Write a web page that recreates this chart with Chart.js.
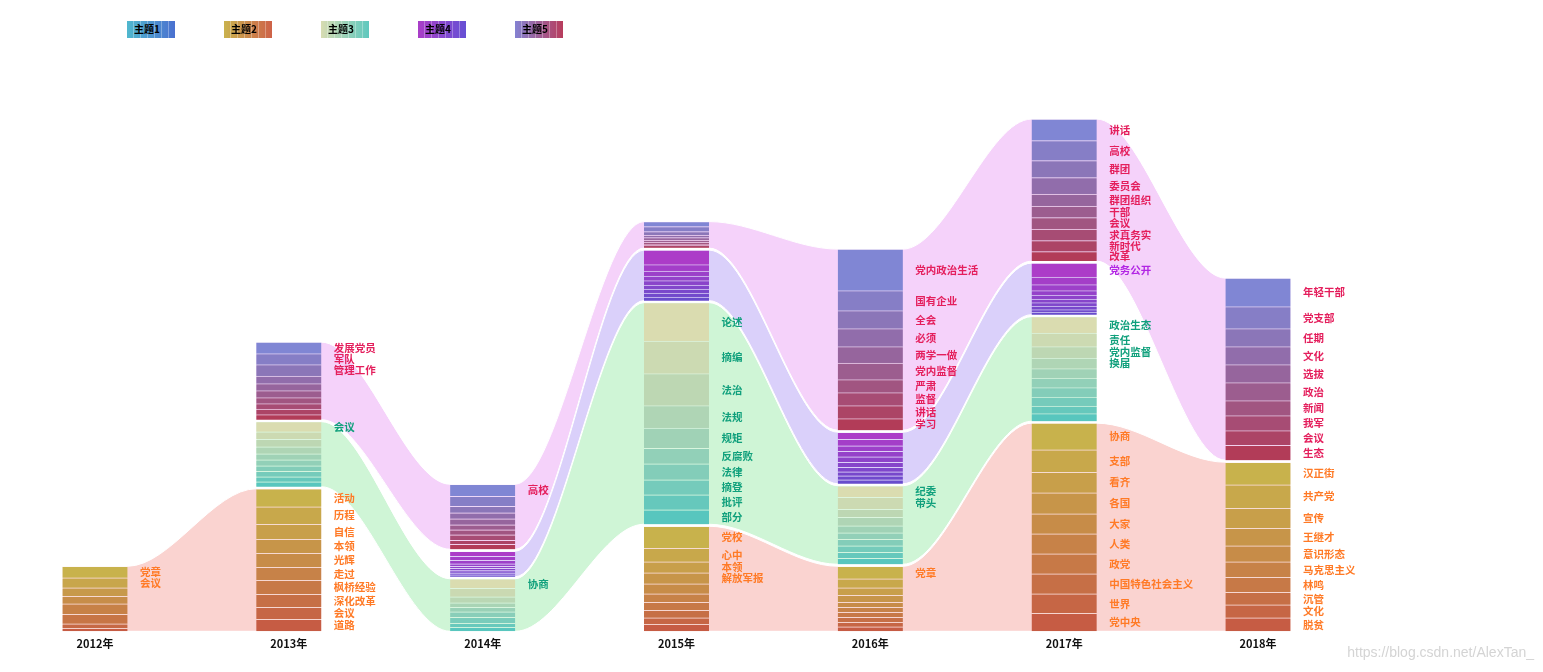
<!DOCTYPE html>
<html>
<head>
<meta charset="utf-8">
<script src="https://cdn.jsdelivr.net/npm/chart.js@4/dist/chart.umd.min.js"></script>
<style>
  html, body { margin: 0; padding: 0; background: #fff; }
  #wrap { position: relative; width: 1543px; height: 672px; }
  .lg {
    position: absolute; top: 21px; width: 48px; height: 17px; box-sizing: border-box;
    padding-left: 7px; line-height: 17px; color: #000;
    font: bold 10px "Noto Sans CJK SC", sans-serif;
  }
  #mark {
    position: absolute; right: 9px; top: 644px; color: #d4d4d4;
    font: 14px "Liberation Sans", Arial, sans-serif;
  }
</style>
</head>
<body>
<div id="wrap">
  <canvas id="grafico"></canvas>
  <div id="leyenda"></div>
  <div id="mark">https://blog.csdn.net/AlexTan_</div>
</div>
<script>
// Años y temas
const years = [2012, 2013, 2014, 2015, 2016, 2017, 2018];
const themeNames = ['主题1', '主题2', '主题3', '主题4', '主题5'];

// Tamaños de cada segmento (de arriba hacia abajo) por año, [] = el tema no aparece
const theme2Sizes = [
  [11.5, 10, 8.5, 7.5, 10.5, 9.5, 4.5, 3],
  [18, 17.5, 15, 14, 14, 13, 14, 13, 12, 12],
  [],
  [22, 13.5, 11, 11, 10, 8.5, 8, 7.5, 6.5, 7],
  [12.5, 9, 7.5, 7, 5, 5, 5, 5, 4.5, 4.5],
  [26.5, 22.5, 20.5, 21, 20, 20, 20, 20, 19.5, 18],
  [22.5, 23.5, 20, 17.5, 16, 15.5, 15, 12.5, 13, 13.5]
];
const theme2Words = [
  ['党章', '会议'],
  ['活动', '历程', '自信', '本领', '光辉', '走过', '枫桥经验', '深化改革', '会议', '道路'],
  [],
  ['党校', '心中', '本领', '解放军报'],
  ['党章'],
  ['协商', '支部', '看齐', '各国', '大家', '人类', '政党', '中国特色社会主义', '世界', '党中央'],
  ['汉正街', '共产党', '宣传', '王继才', '意识形态', '马克思主义', '林鸣', '沉管', '文化', '脱贫']
];

const theme3Sizes = [
  [],
  [10, 7.5, 7.5, 7, 6, 6, 5.5, 5.5, 5, 5],
  [9.5, 8.5, 6, 4.5, 4.5, 5.5, 6, 4, 4],
  [38.5, 32.5, 32, 22.5, 20, 15.5, 16, 15, 15, 14.5],
  [11.5, 12, 8, 8.5, 7, 6.5, 6.5, 6.5, 6, 6],
  [16.5, 13.5, 11.5, 10.5, 9.5, 9.5, 9.5, 9, 7.5, 7.5],
  []
];
const theme3Words = [
  [],
  ['会议'],
  ['协商'],
  ['论述', '摘编', '法治', '法规', '规矩', '反腐败', '法律', '摘登', '批评', '部分'],
  ['纪委', '带头'],
  ['政治生态', '责任', '党内监督', '换届'],
  []
];

const theme4Sizes = [
  [],
  [],
  [5, 4, 3.5, 2.5, 2, 2, 1.5, 1.5, 1.5, 2],
  [14.5, 6.5, 5, 4.5, 4.5, 4, 4, 4, 3.5],
  [7, 6.5, 5.5, 5.5, 5.5, 5, 4.5, 4, 4, 4],
  [14, 7.5, 6, 4.5, 4, 3.5, 3.5, 3.5, 2.5, 2.5],
  []
];
const theme4Words = [[], [], [], [], [], ['党务公开'], []];

const theme5Sizes = [
  [],
  [11.5, 11, 11.5, 7.5, 7, 7, 6, 5.5, 5.5, 5],
  [12, 10, 6.5, 6, 6, 5, 5, 5.5, 4, 5],
  [5, 5, 3.5, 2.5, 2.5, 2, 2, 1.5, 1.5, 1],
  [41.5, 20, 18, 18, 16.5, 16.5, 13, 13, 13, 11.5],
  [21.5, 20, 17, 16.5, 12, 11.5, 11.5, 11.5, 11, 9.5],
  [28.5, 22, 18, 18, 18, 18, 15, 15, 14.5, 15]
];
const theme5Words = [
  [],
  ['发展党员', '军队', '管理工作'],
  ['高校'],
  [],
  ['党内政治生活', '国有企业', '全会', '必须', '两学一做', '党内监督', '严肃', '监督', '讲话', '学习'],
  ['讲话', '高校', '群团', '委员会', '群团组织', '干部', '会议', '求真务实', '新时代', '改革'],
  ['年轻干部', '党支部', '任期', '文化', '选拔', '政治', '新闻', '我军', '会议', '生态']
];

// Colores de la leyenda (izquierda -> derecha)
const legendColors = [
  ['rgb(80,184,206)', 'rgb(74,112,208)'],
  ['rgb(201,178,78)', 'rgb(206,98,72)'],
  ['rgb(216,220,178)', 'rgb(94,200,190)'],
  ['rgb(170,62,200)', 'rgb(102,80,212)'],
  ['rgb(132,130,210)', 'rgb(184,60,92)']
];

// temas que aparecen, de abajo hacia arriba
const themes = [
  { sizes: theme2Sizes, words: theme2Words, top: [200, 178, 76], bottom: [198, 92, 68], stream: 'rgb(250,211,208)', text: 'rgb(255,122,38)' },
  { sizes: theme3Sizes, words: theme3Words, top: [218, 220, 176], bottom: [88, 198, 190], stream: 'rgb(207,245,214)', text: 'rgb(16,160,124)' },
  { sizes: theme4Sizes, words: theme4Words, top: [172, 60, 200], bottom: [104, 76, 204], stream: 'rgb(218,208,250)', text: 'rgb(178,38,228)' },
  { sizes: theme5Sizes, words: theme5Words, top: [128, 134, 212], bottom: [178, 60, 88], stream: 'rgb(245,210,250)', text: 'rgb(228,30,92)' }
];

const GAP = 2;                 // separación entre temas
const HALF = 32.5 / 193.83;    // media anchura de barra en años

// apilar los bloques
const blocks = themes.map(() => []);
years.forEach((yr, yi) => {
  let base = 0;
  themes.forEach((th, t) => {
    const s = th.sizes[yi];
    if (!s.length) { blocks[t][yi] = null; return; }
    if (base > 0) base += GAP;
    const total = s.reduce((a, b) => a + b, 0);
    const hi = base + total;
    let cur = hi;
    const segs = s.map(v => { const sg = { lo: cur - v, hi: cur }; cur -= v; return sg; });
    blocks[t][yi] = { lo: base, hi: hi, segs: segs };
    base = hi;
  });
});

function mix(a, b, k) {
  return 'rgb(' + a.map((v, i) => Math.round(v + (b[i] - v) * k)).join(',') + ')';
}

let datasets = [];

// cintas entre años consecutivos
themes.forEach((th, t) => {
  let run = [];
  const flush = () => {
    if (run.length >= 2) {
      const lowPts = [], highPts = [];
      run.forEach(yi => {
        const b = blocks[t][yi];
        lowPts.push({ x: years[yi] - HALF, y: b.lo }, { x: years[yi] + HALF, y: b.lo });
        highPts.push({ x: years[yi] - HALF, y: b.hi }, { x: years[yi] + HALF, y: b.hi });
      });
      const base = { type: 'line', cubicInterpolationMode: 'monotone', pointRadius: 0, borderColor: '#fff', borderWidth: 1, order: 1 };
      datasets.push(Object.assign({}, base, { data: lowPts, fill: false }));
      datasets.push(Object.assign({}, base, { data: highPts, fill: '-1', backgroundColor: th.stream }));
    }
    run = [];
  };
  years.forEach((yr, yi) => { if (blocks[t][yi]) run.push(yi); else flush(); });
  flush();
});

// barras por segmentos
themes.forEach((th, t) => {
  const data = [];
  years.forEach((yr, yi) => {
    const b = blocks[t][yi];
    if (!b) return;
    b.segs.forEach((sg, i) => data.push({ x: yr, y: [sg.lo, sg.hi], i: i, n: b.segs.length }));
  });
  datasets.push({
    type: 'bar',
    data: data,
    backgroundColor: ctx => ctx.raw ? mix(th.top, th.bottom, ctx.raw.n > 1 ? ctx.raw.i / (ctx.raw.n - 1) : 0) : '#ccc',
    borderColor: 'rgba(255,255,255,0.28)',
    borderWidth: { top: 1 },
    borderSkipped: false,
    grouped: false,
    barThickness: 65,
    order: 0
  });
});

// etiquetas de palabras
const palabras = {
  id: 'palabras',
  afterDatasetsDraw(chart) {
    const ctx = chart.ctx, xs = chart.scales.x, ys = chart.scales.y;
    ctx.save();
    ctx.font = 'bold 10.5px "Noto Sans CJK SC", sans-serif';
    ctx.textBaseline = 'middle';
    ctx.textAlign = 'left';
    themes.forEach((th, t) => {
      ctx.fillStyle = th.text;
      years.forEach((yr, yi) => {
        const b = blocks[t][yi];
        if (!b) return;
        th.words[yi].forEach((w, i) => {
          const sg = b.segs[i];
          const y = ys.getPixelForValue((sg.lo + sg.hi) / 2);
          ctx.fillText(w, xs.getPixelForValue(yr) + 45, y);
        });
      });
    });
    ctx.restore();
  }
};

let grafico = document.getElementById('grafico').getContext('2d');
let diagrama = new Chart(grafico, {
  type: 'bar',
  data: { datasets: datasets },
  options: {
    responsive: true,
    maintainAspectRatio: false,
    animation: false,
    events: [],
    layout: { padding: { left: 0, right: 0, top: 0, bottom: 15.5 } },
    plugins: { legend: { display: false }, tooltip: { enabled: false } },
    scales: {
      x: {
        type: 'linear',
        offset: false,
        min: 2012 - 95 / 193.83,
        max: 2018 + 285 / 193.83,
        grid: { display: false, drawTicks: false },
        border: { display: false },
        afterBuildTicks: scale => { scale.ticks = years.map(v => ({ value: v })); },
        ticks: {
          padding: 6,
          color: '#111',
          font: { family: '"Noto Sans CJK SC", sans-serif', size: 11, weight: 'bold' },
          callback: v => v + '年'
        }
      },
      y: { display: false, min: 0, max: 631 }
    }
  },
  plugins: [palabras]
});

// leyenda en HTML
const leyenda = document.getElementById('leyenda');
themeNames.forEach((name, i) => {
  const d = document.createElement('div');
  d.className = 'lg';
  d.style.left = (127 + i * 97) + 'px';
  d.style.background = 'repeating-linear-gradient(to right, rgba(255,255,255,0) 0 6px, rgba(255,255,255,0.3) 6px 7px), linear-gradient(to right, ' + legendColors[i][0] + ', ' + legendColors[i][1] + ')';
  d.textContent = name;
  leyenda.appendChild(d);
});
</script>
</body>
</html>
